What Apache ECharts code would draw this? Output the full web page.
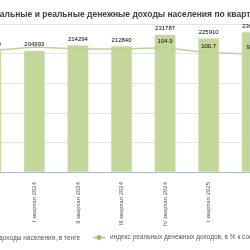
<!DOCTYPE html>
<html>
<head>
<meta charset="utf-8">
<script src="https://cdn.jsdelivr.net/npm/echarts@6/dist/echarts.min.js"></script>
<style>
  html, body { margin: 0; padding: 0; background: #fff; overflow: hidden; width: 250px; height: 250px; }
  /* the reference is a crop of a wider chart, so the canvas hangs off the left edge */
  #chart { position: absolute; left: -60px; top: 0; width: 370px; height: 250px; }
</style>
</head>
<body>
<div id="chart"></div>
<script>
const quarters = ['IV квартал 2023', 'I квартал 2024', 'II квартал 2024', 'III квартал 2024', 'IV квартал 2024', 'I квартал 2025', 'II квартал 2025']
const nominalIncome = [206000, 204993, 214294, 212840, 231787, 225910, 236500]
const realIndex = [102.4, 105.6, 103.9, 103.9, 104.9, 100.7, 99.6]
const nominalName = 'номинальные денежные доходы населения, в тенге'
const indexName = 'индекс реальных денежных доходов, в % к соответствующему кварталу предыдущего года'

const chart = echarts.init(document.getElementById('chart'))

let option = {
  animation: false,
  textStyle: { fontFamily: 'Liberation Sans, Arial, sans-serif' },
  title: {
    text: 'Номинальные и реальные денежные доходы населения по кварталам',
    left: 27,
    top: 5,
    textStyle: { fontSize: 8.5, fontWeight: 'bold', color: '#404040' }
  },
  legend: [
    {
      data: [nominalName],
      right: 225,
      top: 229,
      itemWidth: 6,
      itemHeight: 6,
      textStyle: { fontSize: 6.5, color: '#595959' }
    },
    {
      data: [indexName],
      left: 147,
      top: 229,
      itemWidth: 12,
      itemHeight: 6,
      textStyle: { fontSize: 6.5, color: '#595959' }
    }
  ],
  grid: { left: 29, top: 24, width: 305, height: 148 },
  xAxis: {
    type: 'category',
    data: quarters,
    axisLine: { lineStyle: { color: '#a8b6d2', width: 1 } },
    axisTick: { show: false },
    axisLabel: { rotate: 90, fontSize: 6, color: '#595959', margin: 10, interval: 0 }
  },
  yAxis: [
    {
      type: 'value',
      min: 0,
      max: 250000,
      interval: 50000,
      axisLabel: { show: false },
      splitLine: { lineStyle: { color: '#e4e4e4' } }
    },
    {
      type: 'value',
      min: 0,
      max: 125,
      interval: 25,
      axisLabel: { show: false },
      splitLine: { show: false }
    }
  ],
  series: [
    {
      name: nominalName,
      type: 'bar',
      data: nominalIncome,
      barWidth: 21,
      itemStyle: { color: '#c4d79b', borderColor: '#d9e5c0', borderWidth: 0.5 },
      label: { show: true, position: 'top', distance: 3, fontSize: 6, color: '#000' }
    },
    {
      name: indexName,
      type: 'line',
      yAxisIndex: 1,
      data: realIndex.map((v, i) => ({ value: v, label: { show: i >= 4 } })),
      symbol: 'circle',
      symbolSize: 1,
      lineStyle: { color: '#bcd396', width: 1.5 },
      itemStyle: { color: '#9bbb59' },
      label: { position: 'top', distance: 3, fontSize: 6, color: '#000' }
    }
  ]
}

chart.setOption(option)
</script>
</body>
</html>
